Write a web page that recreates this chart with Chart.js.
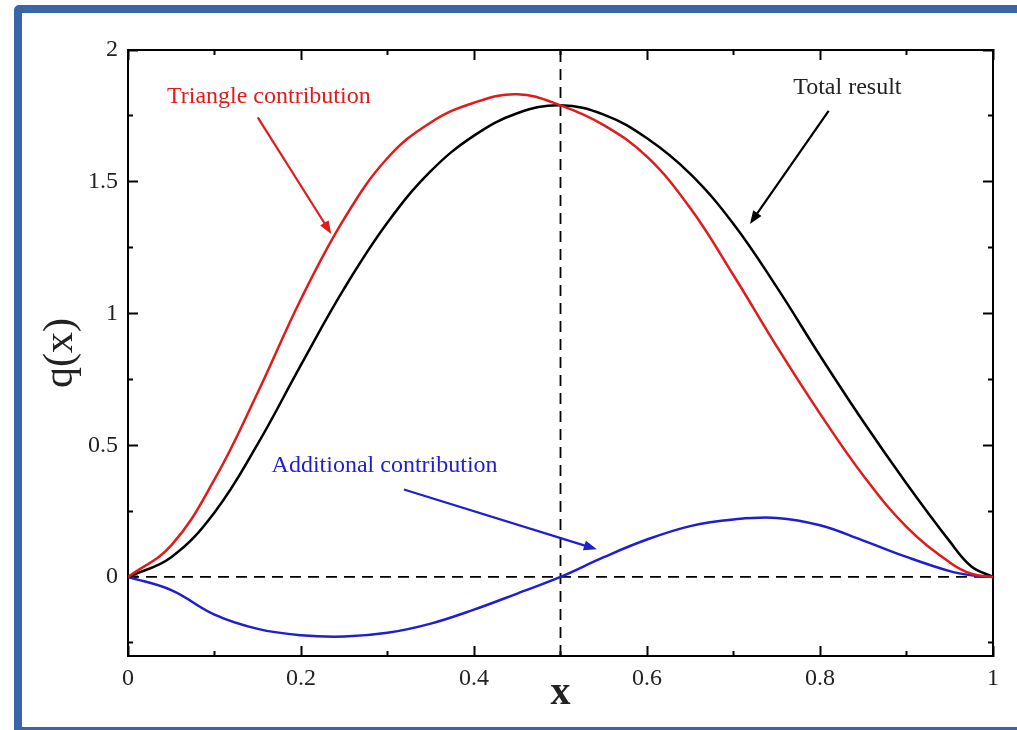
<!DOCTYPE html>
<html>
<head>
<meta charset="utf-8">
<script src="https://cdn.jsdelivr.net/npm/chart.js@4.4.0/dist/chart.umd.min.js"></script>
<style>
  html, body { margin: 0; padding: 0; background: #fff; overflow: hidden; }
  #frame {
    position: absolute; left: 14px; top: 5px;
    width: 1100px; height: 730px; box-sizing: border-box;
    border: 8px solid #3b65a9; border-radius: 5px;
  }
  #wrap { position: absolute; left: 0; top: 0; width: 1017px; height: 730px; }
</style>
</head>
<body>
<div id="frame"></div>
<div id="wrap"><canvas id="chart" width="1017" height="730"></canvas></div>
<script>
// q(x) profile: triangle part, additional part and their total
const xs         = [0, 0.05, 0.1, 0.15, 0.2, 0.25, 0.3, 0.35, 0.4, 0.45, 0.5, 0.55, 0.6, 0.65, 0.7, 0.75, 0.8, 0.85, 0.9, 0.95, 0.975, 1];
const triangle   = [0, 0.12, 0.37, 0.70, 1.055, 1.36, 1.59, 1.725, 1.80, 1.832, 1.79, 1.715, 1.595, 1.40, 1.145, 0.875, 0.62, 0.385, 0.19, 0.055, 0.012, 0];
const total      = [0, 0.075, 0.245, 0.505, 0.805, 1.095, 1.345, 1.54, 1.675, 1.76, 1.79, 1.755, 1.665, 1.53, 1.34, 1.10, 0.84, 0.59, 0.355, 0.135, 0.04, 0];
const additional = [0, -0.05, -0.143, -0.197, -0.221, -0.226, -0.212, -0.177, -0.124, -0.063, 0, 0.075, 0.142, 0.193, 0.218, 0.224, 0.196, 0.138, 0.076, 0.022, 0.006, 0];

// axis ticks
const xMajor = [0, 0.2, 0.4, 0.6, 0.8, 1];
const xMinor = [0.1, 0.3, 0.5, 0.7, 0.9];
const yMajor = [0, 0.5, 1, 1.5, 2];
const yMinor = [-0.25, 0.25, 0.75, 1.25, 1.75];
const xRange = [0, 1];
const yRange = [-0.3, 2];

const RED = '#e01b1b';
const BLUE = '#1e1ed2';
const BLACK = '#000000';
const SERIF = "'Liberation Serif', 'DejaVu Serif', serif";

const pts = ys => xs.map((x, i) => ({ x: x, y: ys[i] }));

// labels with arrows, placed in data coordinates
const notes = [
  { text: 'Triangle contribution',   color: RED,    at: [0.045, 1.80], from: [0.150, 1.744], to: [0.235, 1.302] },
  { text: 'Total result',            color: '#222', at: [0.769, 1.833], from: [0.810, 1.769], to: [0.719, 1.340], arrowColor: BLACK },
  { text: 'Additional contribution', color: BLUE,   at: [0.166, 0.399], from: [0.319, 0.332], to: [0.542, 0.105] }
];

function drawArrow(ctx, x1, y1, x2, y2, color) {
  const ang = Math.atan2(y2 - y1, x2 - x1);
  const len = 13, half = 5;
  ctx.strokeStyle = color;
  ctx.lineWidth = 2.2;
  ctx.beginPath();
  ctx.moveTo(x1, y1);
  ctx.lineTo(x2 - Math.cos(ang) * len * 0.7, y2 - Math.sin(ang) * len * 0.7);
  ctx.stroke();
  ctx.fillStyle = color;
  ctx.beginPath();
  ctx.moveTo(x2, y2);
  ctx.lineTo(x2 - len * Math.cos(ang) + half * Math.sin(ang), y2 - len * Math.sin(ang) - half * Math.cos(ang));
  ctx.lineTo(x2 - len * Math.cos(ang) - half * Math.sin(ang), y2 - len * Math.sin(ang) + half * Math.cos(ang));
  ctx.closePath();
  ctx.fill();
}

const notePlugin = {
  id: 'notes',
  afterDatasetsDraw(chart) {
    const ctx = chart.ctx;
    const sx = chart.scales.x, sy = chart.scales.y;
    ctx.save();
    ctx.font = '24px ' + SERIF;
    ctx.textAlign = 'left';
    ctx.textBaseline = 'alphabetic';
    notes.forEach(n => {
      ctx.fillStyle = n.color;
      ctx.fillText(n.text, sx.getPixelForValue(n.at[0]), sy.getPixelForValue(n.at[1]));
      drawArrow(ctx,
        sx.getPixelForValue(n.from[0]), sy.getPixelForValue(n.from[1]),
        sx.getPixelForValue(n.to[0]), sy.getPixelForValue(n.to[1]),
        n.arrowColor || n.color);
    });
    ctx.restore();
  }
};

// inward tick marks on every side; extra scales take no room
function tickScale(position, values, length, opts) {
  const horizontal = position === 'top' || position === 'bottom';
  const range = horizontal ? xRange : yRange;
  return Object.assign({
    type: 'linear',
    position: position,
    min: range[0],
    max: range[1],
    afterBuildTicks: s => { s.ticks = values.map(v => ({ value: v })); },
    afterFit: s => { if (horizontal) s.height = 0; else s.width = 0; },
    ticks: { display: false },
    grid: { drawOnChartArea: false, tickLength: -length, tickColor: BLACK, tickWidth: 2 },
    border: { display: false }
  }, opts || {});
}

const curve = (label, values, color) => ({
  label: label,
  data: pts(values),
  borderColor: color,
  borderWidth: 2.5,
  pointRadius: 0,
  tension: 0.4,
  fill: false
});

const ctx = document.getElementById('chart').getContext('2d');

new Chart(ctx, {
  type: 'line',
  data: {
    datasets: [
      curve('Triangle contribution', triangle, RED),
      curve('Total result', total, BLACK),
      curve('Additional contribution', additional, BLUE),
      { label: 'zero', data: [{ x: xRange[0], y: 0 }, { x: xRange[1], y: 0 }], borderColor: BLACK, borderWidth: 1.8, borderDash: [11, 7], pointRadius: 0 },
      { label: 'mid', data: [{ x: 0.5, y: yRange[0] }, { x: 0.5, y: yRange[1] }], borderColor: BLACK, borderWidth: 1.8, borderDash: [11, 7], pointRadius: 0 }
    ]
  },
  options: {
    responsive: false,
    animation: false,
    devicePixelRatio: 1,
    layout: { autoPadding: false, padding: { left: 0, top: 50, right: 22, bottom: 0 } },
    plugins: { legend: { display: false }, tooltip: { enabled: false } },
    scales: {
      x: {
        type: 'linear',
        position: 'bottom',
        weight: 1,
        min: xRange[0],
        max: xRange[1],
        afterBuildTicks: s => { s.ticks = xMajor.map(v => ({ value: v })); },
        afterFit: s => { s.height = 74; },
        ticks: { font: { family: SERIF, size: 24 }, color: '#222', padding: 18, maxRotation: 0, callback: v => String(v) },
        grid: { drawOnChartArea: false, tickLength: -10, tickColor: BLACK, tickWidth: 2 },
        border: { display: true, color: BLACK, width: 2 },
        title: { display: true, text: 'x', font: { family: SERIF, size: 40, weight: 'bold' }, color: '#222', padding: { top: 0, bottom: 12 } }
      },
      xMinorB: tickScale('bottom', xMinor, 5, { weight: 0 }),
      xTop: tickScale('top', xMajor, 10, { border: { display: true, color: BLACK, width: 2 } }),
      xMinorT: tickScale('top', xMinor, 5),
      y: {
        type: 'linear',
        position: 'left',
        weight: 1,
        min: yRange[0],
        max: yRange[1],
        afterBuildTicks: s => { s.ticks = yMajor.map(v => ({ value: v })); },
        afterFit: s => { s.width = 128; },
        ticks: { font: { family: SERIF, size: 24 }, color: '#222', padding: 20, callback: v => String(v) },
        grid: { drawOnChartArea: false, tickLength: -10, tickColor: BLACK, tickWidth: 2 },
        border: { display: true, color: BLACK, width: 2 },
        title: { display: true, text: 'q(x)', font: { family: SERIF, size: 42 }, color: '#222', padding: { top: 36, bottom: 0 } }
      },
      yMinorL: tickScale('left', yMinor, 5, { weight: 0 }),
      yRight: tickScale('right', yMajor, 10, { border: { display: true, color: BLACK, width: 2 } }),
      yMinorR: tickScale('right', yMinor, 5)
    }
  },
  plugins: [notePlugin]
});
</script>
</body>
</html>
